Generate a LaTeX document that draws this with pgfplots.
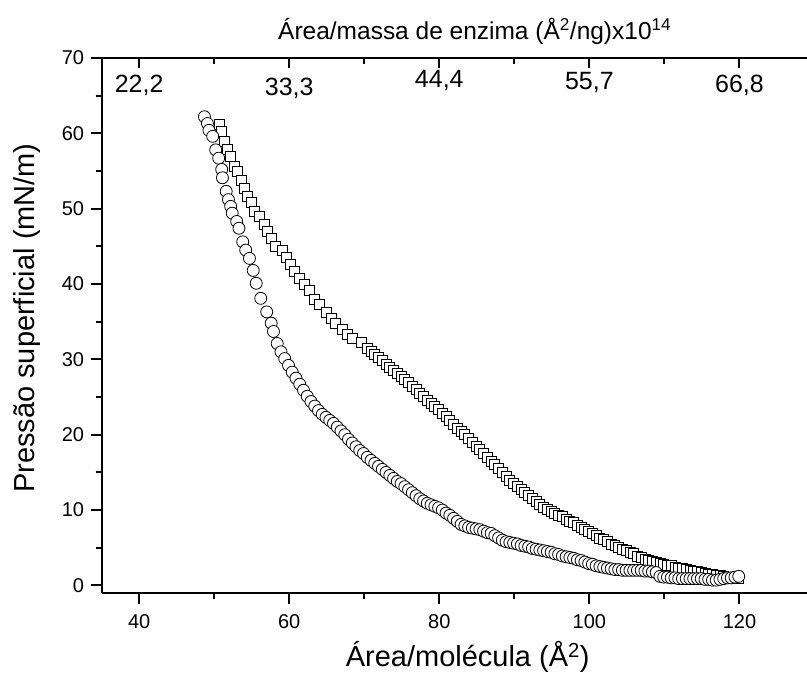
\documentclass[border=0pt]{standalone}
\usepackage{pgfplots}
\pgfplotsset{compat=1.18}
\usepackage{fontspec}
\setmainfont{Liberation Sans}

\pgfplotstableread{
x y
50.7 61.2
51.0 60.2
51.3 58.9
51.8 57.8
52.2 56.9
52.7 55.6
53.1 54.9
53.6 53.8
54.0 52.7
54.4 51.6
54.9 50.8
55.3 49.6
56.0 49.0
56.7 47.9
57.1 47.0
57.6 46.1
58.2 45.0
59.1 44.4
59.6 43.5
60.2 42.6
60.7 41.7
61.3 40.8
62.0 40.0
62.7 39.1
63.3 38.0
64.0 37.3
64.9 36.2
65.6 35.5
66.2 34.8
67.1 34.0
67.8 33.3
68.4 32.8
69.6 32.2
70.4 31.5
70.9 31.1
71.4 30.7
71.9 30.3
72.4 29.8
72.9 29.3
73.4 28.9
73.9 28.5
74.4 28.1
74.9 27.7
75.4 27.3
75.9 26.9
76.4 26.4
76.9 26.0
77.4 25.5
77.9 25.1
78.4 24.6
78.9 24.2
79.4 23.7
79.9 23.3
80.4 22.8
80.9 22.4
81.4 21.9
81.9 21.4
82.4 20.9
82.9 20.4
83.4 20.0
83.9 19.5
84.4 19.0
84.9 18.5
85.4 18.0
85.9 17.5
86.4 17.0
86.9 16.5
87.4 16.0
87.9 15.5
88.4 15.0
88.9 14.5
89.4 14.0
89.9 13.6
90.4 13.2
90.9 12.8
91.4 12.3
91.9 11.9
92.4 11.5
92.9 11.1
93.4 10.8
93.9 10.4
94.4 10.1
94.9 9.8
95.4 9.6
95.9 9.3
96.4 9.1
96.9 8.8
97.4 8.5
97.9 8.3
98.4 8.0
98.9 7.7
99.4 7.4
99.9 7.2
100.4 6.9
100.9 6.6
101.4 6.3
101.9 6.1
102.4 5.8
102.9 5.5
103.4 5.3
103.9 5.0
104.4 4.8
104.9 4.6
105.4 4.4
105.9 4.2
106.4 3.9
106.9 3.7
107.4 3.5
107.9 3.3
108.4 3.2
108.9 3.0
109.4 2.9
109.9 2.8
110.4 2.7
110.9 2.6
111.4 2.4
111.9 2.3
112.4 2.2
112.9 2.1
113.4 2.0
113.9 1.9
114.4 1.8
114.9 1.7
115.4 1.6
115.9 1.5
116.4 1.4
116.9 1.3
117.4 1.3
117.9 1.2
118.4 1.1
118.9 1.0
119.4 1.0
119.9 0.9
}\squares

\pgfplotstableread{
x y
48.7 62.2
49.1 61.3
49.3 60.4
49.8 59.6
50.2 57.8
50.6 56.7
51.0 55.2
51.1 54.1
51.6 52.3
51.9 51.2
52.2 50.3
52.4 49.4
53.0 48.3
53.3 47.4
53.8 45.6
54.2 44.5
54.7 43.4
55.2 41.8
55.6 40.1
56.2 38.1
57.0 36.3
57.6 34.8
57.9 33.7
58.4 32.1
58.9 31.0
59.4 30.1
59.9 29.2
60.4 28.3
60.9 27.5
61.4 26.7
61.9 25.9
62.4 25.1
62.9 24.4
63.4 23.8
63.9 23.2
64.4 22.7
64.9 22.3
65.4 21.9
65.9 21.5
66.4 21.0
66.9 20.5
67.4 20.0
67.9 19.4
68.4 18.9
68.9 18.4
69.4 17.9
69.9 17.5
70.4 17.0
70.9 16.6
71.4 16.2
71.9 15.8
72.4 15.4
72.9 15.0
73.4 14.6
73.9 14.2
74.4 13.8
74.9 13.5
75.4 13.1
75.9 12.7
76.4 12.3
76.9 11.9
77.4 11.5
77.9 11.2
78.4 10.9
78.9 10.7
79.4 10.5
79.9 10.3
80.4 10.0
80.9 9.6
81.4 9.3
81.9 8.9
82.4 8.5
82.9 8.1
83.4 7.9
83.9 7.7
84.4 7.6
84.9 7.5
85.4 7.4
85.9 7.2
86.4 7.0
86.9 6.9
87.4 6.6
87.9 6.3
88.4 6.0
88.9 5.8
89.4 5.7
89.9 5.6
90.4 5.5
90.9 5.3
91.4 5.2
91.9 5.1
92.4 4.9
92.9 4.8
93.4 4.7
93.9 4.6
94.4 4.5
94.9 4.4
95.4 4.2
95.9 4.1
96.4 3.9
96.9 3.8
97.4 3.7
97.9 3.6
98.4 3.4
98.9 3.3
99.4 3.1
99.9 2.9
100.4 2.8
100.9 2.6
101.4 2.5
101.9 2.4
102.4 2.3
102.9 2.2
103.4 2.1
103.9 2.1
104.4 2.0
104.9 2.0
105.4 2.0
105.9 2.0
106.4 2.0
106.9 2.0
107.4 1.9
107.9 1.9
108.4 1.8
108.9 1.7
109.4 1.2
109.9 1.1
110.4 1.1
110.9 1.0
111.4 1.0
111.9 0.9
112.4 0.9
112.9 0.9
113.4 0.9
113.9 0.9
114.4 0.9
114.9 0.9
115.4 0.8
115.9 0.8
116.4 0.7
116.9 0.7
117.4 0.8
117.9 0.9
118.4 1.0
118.9 1.0
119.4 1.1
119.9 1.2
}\circles

\begin{document}
\begin{tikzpicture}
\begin{axis}[
  at={(0,0)}, anchor=south west,
  scale only axis, width=705.8pt, height=535.3pt,
  xmin=35, xmax=129, ymin=-1, ymax=70,
  axis x line*=bottom, axis y line*=left,
  axis line style={line width=2pt, black},
  tick align=outside,
  xtick={40,60,80,100,120}, minor xtick={50,70,90,110},
  ytick={0,10,20,30,40,50,60,70}, minor ytick={5,15,25,35,45,55,65},
  major tick length=11pt, minor tick length=6pt,
  every tick/.style={line width=2pt, black},
  ticklabel style={font=\fontsize{20}{24}\selectfont},
  xticklabel style={yshift=-7pt},
  yticklabel style={xshift=-3pt},
  /pgf/number format/assume math mode=true,
  clip=false,
]
\addplot[only marks, mark=square*, mark size=5pt,
  mark options={fill=white, draw=black, line width=0.8pt}] table {\squares};
\addplot[only marks, mark=*, mark size=6pt,
  mark options={fill=white, draw=black, line width=0.8pt}] table {\circles};
\node[font=\fontsize{25}{30}\selectfont] at (axis cs:40,66.4) {22,2};
\node[font=\fontsize{25}{30}\selectfont] at (axis cs:60,66.0) {33,3};
\node[font=\fontsize{25}{30}\selectfont] at (axis cs:80,66.95) {44,4};
\node[font=\fontsize{25}{30}\selectfont] at (axis cs:100,66.7) {55,7};
\node[font=\fontsize{25}{30}\selectfont] at (axis cs:120,66.3) {66,8};
\end{axis}
\begin{axis}[
  at={(0,0)}, anchor=south west,
  scale only axis, width=705.8pt, height=535.3pt,
  xmin=35, xmax=129, ymin=-1, ymax=70,
  axis x line*=top, axis y line=none,
  axis line style={line width=2pt, black},
  tick align=inside,
  xtick={40,60,80,100,120}, minor xtick={50,70,90,110},
  xticklabels={},
  major tick length=10pt, minor tick length=6pt,
  every tick/.style={line width=2pt, black},
]
\addplot[draw=none] coordinates {(40,0)};
\end{axis}
\node[font=\fontsize{24.5}{29}\selectfont] at (373.3pt,562.3pt) {Área/massa de enzima (Å\textsuperscript{2}/ng)x10\textsuperscript{14}};
\node[font=\fontsize{29}{34}\selectfont] at (366.3pt,-63.7pt) {Área/molécula (Å\textsuperscript{2})};
\node[font=\fontsize{29}{34}\selectfont, rotate=90] at (-74.7pt,275pt) {Pressão superficial (mN/m)};
\pgfresetboundingbox
\path[use as bounding box] (-101.7pt,-94.7pt) rectangle (705.8pt,593.3pt);
\end{tikzpicture}
\end{document}
